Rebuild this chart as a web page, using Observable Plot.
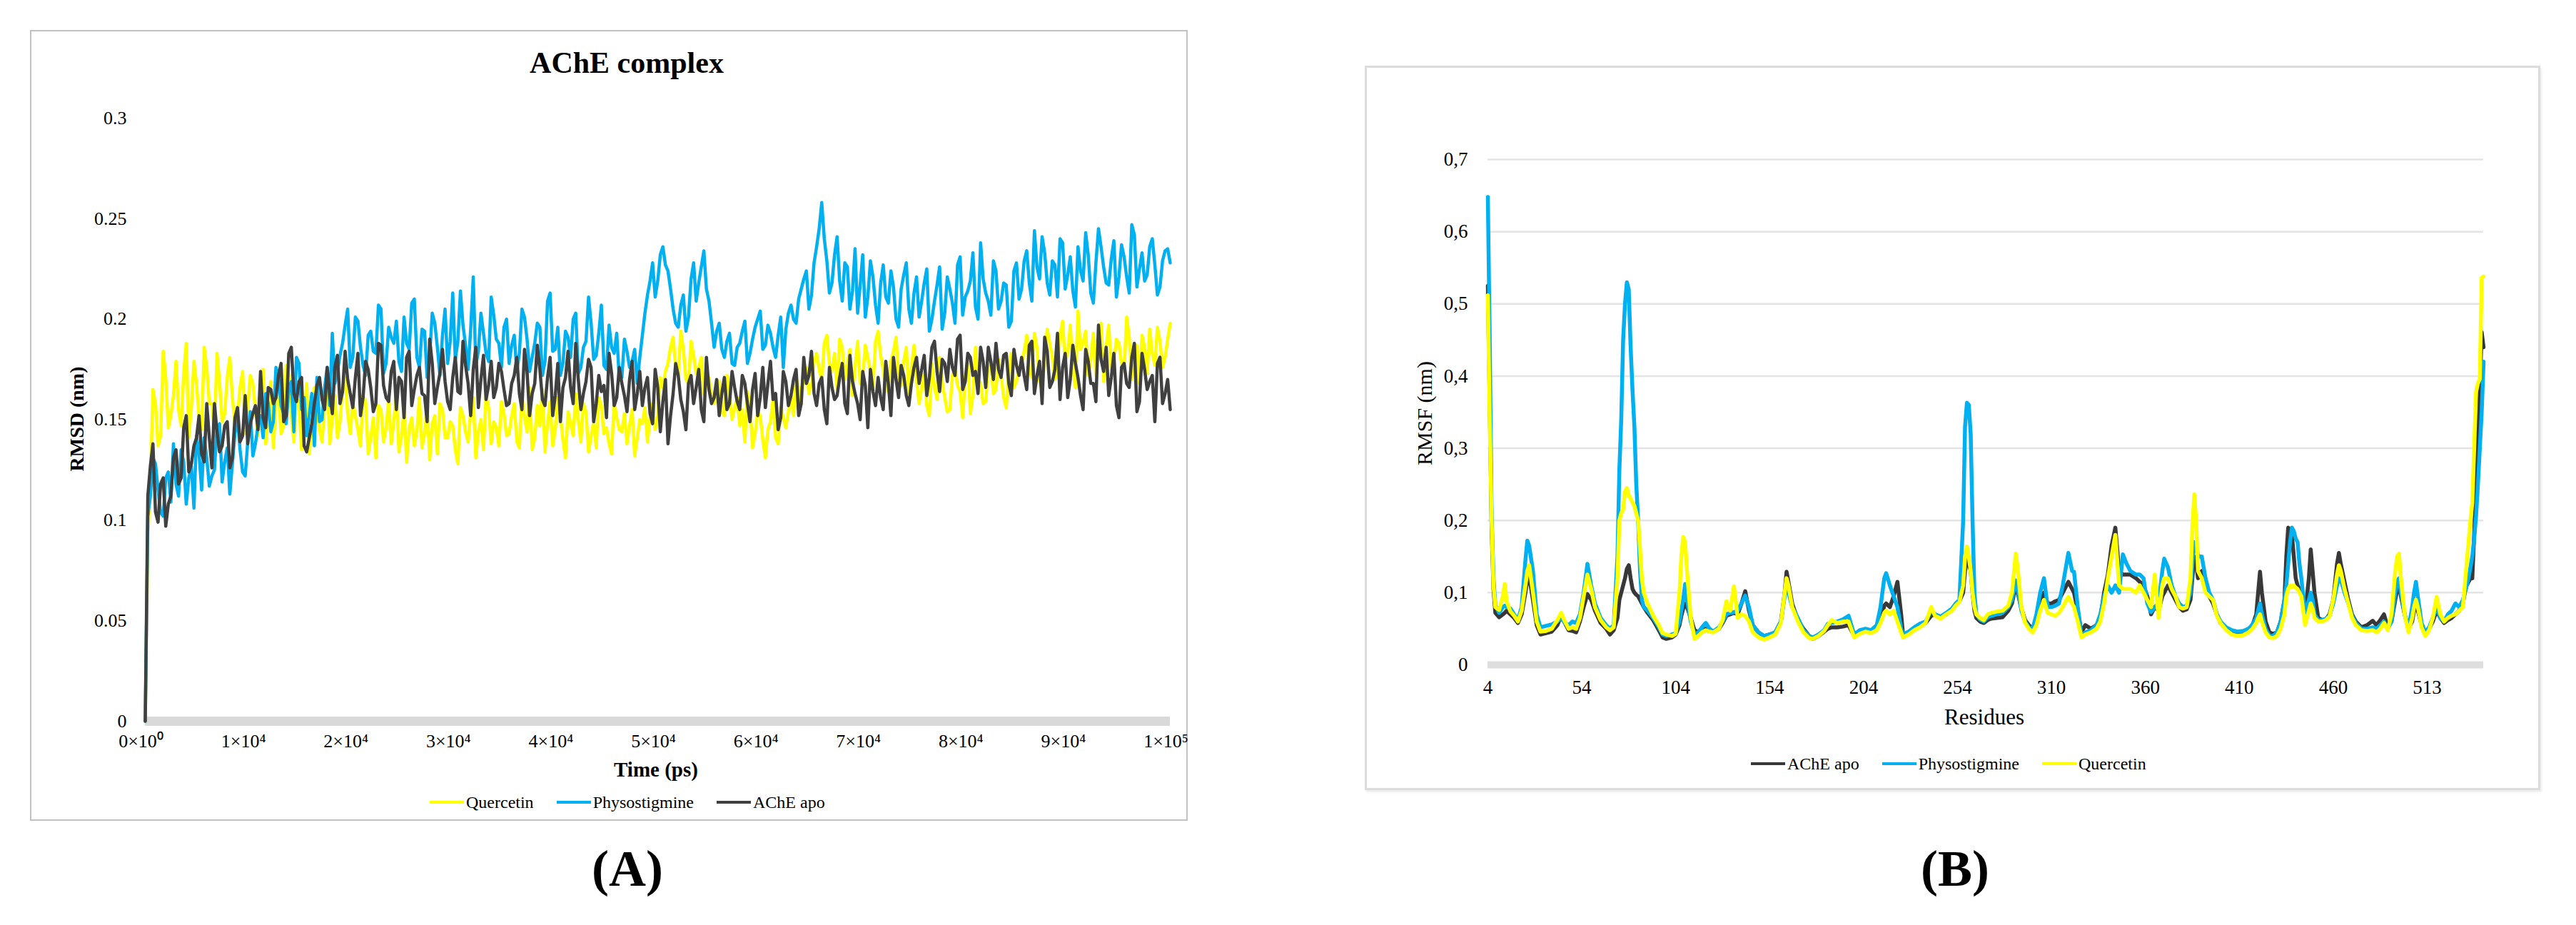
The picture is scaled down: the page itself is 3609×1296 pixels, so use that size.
<!DOCTYPE html>
<html><head><meta charset="utf-8">
<script src="https://cdn.jsdelivr.net/npm/d3@7"></script>
<script src="https://cdn.jsdelivr.net/npm/@observablehq/plot@0.6"></script>
<style>
html,body{margin:0;padding:0;background:#fff;}
body{width:3609px;height:1296px;position:relative;overflow:hidden;font-family:"Liberation Serif","Times New Roman",serif;color:#000;}
.frame{position:absolute;box-sizing:border-box;}
.lbl{position:absolute;white-space:nowrap;line-height:1;transform:translate(-50%,-50%);}
.leg{position:absolute;display:flex;align-items:center;font-size:24px;line-height:1;white-space:nowrap;transform:translateY(-50%);}
.leg .sw{display:inline-block;width:48px;height:4px;margin-right:3px;}
.leg .it{display:flex;align-items:center;margin-right:32px;}
.plot{position:absolute;}
</style>
</head><body>
<div class="frame" style="left:42px;top:42px;width:1622px;height:1108px;border:2px solid #c2c2c2;"></div>
<div class="frame" style="left:1912px;top:92px;width:1647px;height:1015px;border:3px solid #dcdcdc;box-shadow:2px 3px 3px #ececec;"></div>
<script>
// ---------- Panel A: RMSD ----------
const rmsdSeries = ["Quercetin", "Physostigmine", "AChE apo"];
// samples read every 250 ps: "even" values at 0,500,1000,... and "mid" values at 250,750,...
const rmsdStepPs = 250;
const rmsdXTicks = [0, 10000, 20000, 30000, 40000, 50000, 60000, 70000, 80000, 90000, 100000];
const rmsdXTickLabels = ["0×10⁰", "1×10⁴", "2×10⁴", "3×10⁴", "4×10⁴", "5×10⁴", "6×10⁴", "7×10⁴", "8×10⁴", "9×10⁴", "1×10⁵"];
const rmsdYTicks = [0, 0.05, 0.1, 0.15, 0.2, 0.25, 0.3];
const rmsdYTickLabels = ["0", "0.05", "0.1", "0.15", "0.2", "0.25", "0.3"];

const rmsdQuercetin = [0,0.118,0.158,0.142,0.171,0.152,0.179,0.147,0.188,0.156,0.168,0.145,0.176,0.158,0.183,0.149,0.171,0.161,0.152,0.174,0.156,
0.168,0.142,0.175,0.151,0.136,0.163,0.147,0.172,0.139,0.158,0.151,0.133,0.166,0.145,0.157,0.138,0.162,0.149,0.171,0.143,
0.152,0.137,0.159,0.141,0.131,0.155,0.146,0.138,0.163,0.142,0.129,0.151,0.144,0.136,0.158,0.148,0.133,0.155,0.141,0.147,0.128,0.152,0.139,0.161,0.144,0.135,0.156,0.149,0.137,0.153,
0.143,0.158,0.136,0.151,0.166,0.141,0.147,0.134,0.159,0.145,0.152,0.131,0.148,0.163,0.139,0.154,0.142,0.136,0.157,0.146,0.133,0.151,0.144,0.138,0.155,0.141,
0.148,0.139,0.158,0.152,0.166,
0.178,0.191,0.172,0.185,0.168,0.182,0.176,0.163,0.171,
0.158,0.169,0.152,0.164,0.156,
0.147,0.139,0.158,0.143,0.152,0.131,0.149,0.141,0.156,0.146,
0.162,0.171,0.158,0.176,0.168,
0.183,0.169,0.192,0.174,0.165,0.186,0.178,0.162,0.189,0.171,0.181,0.166,0.194,0.175,0.168,0.184,0.172,0.179,0.163,0.187,
0.158,0.173,0.152,0.166,0.181,0.161,0.155,0.176,0.164,0.171,0.153,0.186,0.168,0.159,0.177,0.165,0.172,0.156,0.183,0.169,
0.178,0.192,0.171,0.186,0.165,0.195,0.181,0.174,0.199,0.183,0.176,0.204,0.188,0.172,0.193,0.185,0.169,0.197,0.179,0.188,0.174,0.191,0.183,0.168,0.186,0.195,0.177,0.189,0.181,0.198];
const rmsdQuercetinMid = [0.092,
0.165,0.137,0.184,0.146,0.162,0.155,0.173,0.141,0.179,0.151,0.186,0.158,0.144,0.169,0.153,0.181,0.148,0.166,0.143,0.172,
0.155,0.164,0.138,0.169,0.158,0.143,0.177,0.152,0.161,0.135,0.168,0.147,0.156,0.139,0.172,0.15,0.141,0.165,0.153,0.159,
0.145,0.162,0.133,0.151,0.157,0.139,0.16,0.149,0.134,0.155,0.146,0.137,0.161,0.143,0.13,0.152,0.158,0.141,0.149,0.135,0.156,0.144,0.154,0.131,0.15,0.162,0.138,0.146,0.159,0.142,
0.152,0.139,0.162,0.144,0.135,0.157,0.165,0.148,0.137,0.161,0.14,0.154,0.142,0.15,0.158,0.134,0.149,0.161,0.143,0.138,0.159,0.145,0.153,0.147,0.132,0.15,
0.156,0.151,0.145,0.171,0.174,
0.186,0.176,0.194,0.17,0.189,0.173,0.181,0.168,0.162,
0.165,0.154,0.172,0.15,0.161,
0.155,0.164,0.136,0.154,0.14,0.145,0.16,0.138,0.151,0.154,
0.152,0.166,0.175,0.163,0.179,
0.175,0.188,0.178,0.183,0.19,0.17,0.185,0.176,0.168,0.187,0.174,0.189,0.182,0.164,0.179,0.191,0.167,0.186,0.176,0.17,
0.166,0.157,0.178,0.16,0.169,0.154,0.172,0.167,0.151,0.179,0.162,0.17,0.158,0.175,0.163,0.18,0.161,0.174,0.166,0.176,
0.184,0.175,0.193,0.169,0.182,0.188,0.17,0.192,0.179,0.197,0.166,0.185,0.194,0.18,0.172,0.198,0.186,0.175,0.19,0.178,0.201,0.17,0.187,0.192,0.173,0.183,0.196,0.176,0.19];

const rmsdPhysostigmine = [0,
0.112,0.128,0.104,0.121,0.109,
0.118,0.135,0.108,0.127,0.142,0.115,0.131,0.122,0.146,0.119,0.136,0.128,0.151,0.124,0.139,0.132,0.147,
0.141,0.158,0.149,0.172,0.153,0.165,0.144,0.178,0.161,0.152,0.137,0.149,0.166,0.157,
0.168,0.182,0.197,0.176,0.201,0.186,0.172,0.194,0.183,0.205,0.178,0.191,0.199,0.174,0.188,0.208,0.181,0.195,0.171,0.203,0.186,0.192,0.178,0.213,0.189,0.197,0.175,0.221,0.184,0.193,0.179,0.202,0.188,0.196,
0.178,0.192,0.183,0.201,0.174,0.188,0.196,0.179,0.213,0.185,0.172,0.194,0.181,0.203,0.176,0.189,0.198,0.182,0.207,0.175,0.186,0.193,0.171,0.184,0.179,0.168,
0.192,0.212,0.228,0.219,0.236,
0.224,0.205,0.196,0.212,0.201,0.228,0.218,0.234,0.209,
0.186,0.198,0.181,0.193,0.177,
0.188,0.199,0.183,0.196,0.204,0.187,0.193,0.181,0.201,0.195,
0.207,0.198,0.215,0.224,0.212,
0.236,0.258,0.229,0.218,0.241,0.209,0.226,0.214,0.203,0.232,0.211,0.221,0.198,0.227,0.208,0.216,0.196,0.222,0.205,0.213,
0.201,0.218,0.194,0.209,0.226,0.203,0.215,0.198,0.231,0.211,0.219,0.206,0.238,0.213,0.202,0.224,0.209,0.217,0.199,0.228,
0.215,0.234,0.209,0.226,0.241,0.218,0.229,0.211,0.238,0.222,0.214,0.236,0.219,0.232,0.208,0.245,0.226,0.217,0.239,0.221,0.231,0.213,0.242,0.225,0.219,0.236,0.227,0.216,0.234,0.228];
const rmsdPhysostigmineMid = [0.102,
0.131,0.115,0.102,0.124,0.138,0.112,0.129,0.121,0.106,0.133,0.141,0.117,0.125,0.148,0.129,0.113,0.143,0.135,0.122,0.154,
0.138,0.152,0.163,0.144,0.176,0.157,0.148,0.169,0.181,0.155,0.142,0.163,0.171,0.15,0.176,0.193,0.174,0.188,0.205,0.181,
0.199,0.177,0.192,0.184,0.207,0.173,0.196,0.188,0.179,0.201,0.185,0.21,0.176,0.194,0.182,0.198,0.172,0.205,0.189,0.18,0.214,0.187,0.195,0.177,0.203,0.183,0.211,0.19,0.176,0.2,
0.187,0.174,0.205,0.19,0.181,0.198,0.172,0.209,0.184,0.196,0.178,0.191,0.2,0.173,0.186,0.211,0.18,0.193,0.177,0.197,0.183,0.17,0.19,0.176,0.185,0.181,
0.203,0.219,0.211,0.232,0.227,
0.215,0.198,0.207,0.194,0.22,0.209,0.226,0.215,0.198,
0.194,0.185,0.189,0.178,0.186,
0.194,0.178,0.19,0.2,0.185,0.197,0.186,0.192,0.176,0.203,
0.2,0.21,0.22,0.205,0.228,
0.245,0.24,0.213,0.232,0.219,0.228,0.205,0.235,0.217,0.201,0.229,0.207,0.218,0.211,0.224,0.2,0.215,0.228,0.198,0.221,
0.209,0.225,0.2,0.217,0.195,0.221,0.208,0.227,0.202,0.214,0.233,0.2,0.22,0.209,0.229,0.205,0.218,0.196,0.224,0.21,
0.229,0.218,0.244,0.22,0.233,0.212,0.227,0.24,0.215,0.231,0.206,0.224,0.243,0.213,0.228,0.236,0.218,0.23,0.211,0.237,0.221,0.247,0.216,0.233,0.222,0.24,0.212,0.229,0.235];

const rmsdApo = [0,
0.127,0.104,0.118,0.097,0.112,
0.135,0.121,0.152,0.128,0.141,0.133,0.158,0.126,0.144,0.137,0.149,0.131,0.156,0.142,0.138,0.153,0.145,
0.151,0.166,0.158,0.172,0.149,0.183,0.163,0.169,0.137,0.141,0.158,0.171,0.155,0.163,
0.176,0.158,0.184,0.163,0.171,0.152,0.179,0.166,0.158,0.187,0.161,0.174,0.155,0.169,0.181,0.157,0.172,0.163,0.149,0.178,0.166,0.185,0.159,0.171,0.164,0.189,0.168,0.175,0.156,0.182,0.167,0.161,0.178,0.165,
0.158,0.172,0.163,0.185,0.152,0.168,0.175,0.157,0.181,0.162,0.149,0.171,0.166,0.188,0.155,0.169,0.176,0.158,0.164,0.151,0.173,0.161,0.168,0.154,0.179,0.163,
0.157,0.171,0.148,0.166,0.159,
0.138,0.163,0.172,0.154,0.168,0.158,0.175,0.149,0.165,
0.161,0.152,0.171,0.158,0.166,
0.155,0.168,0.149,0.173,0.161,0.156,0.179,0.163,0.151,0.169,
0.162,0.175,0.158,0.168,0.184,
0.157,0.171,0.148,0.166,0.162,0.178,0.153,0.169,0.158,0.174,0.146,0.164,0.171,0.155,0.168,0.181,0.161,0.172,0.157,0.176,
0.168,0.182,0.171,0.189,0.164,0.178,0.185,0.172,0.192,0.169,0.181,0.174,0.186,0.166,0.179,0.188,0.171,0.183,0.162,0.177,
0.181,0.165,0.189,0.172,0.158,0.184,0.169,0.193,0.176,0.161,0.187,0.171,0.155,0.179,0.168,0.197,0.174,0.162,0.183,0.151,0.178,0.166,0.188,0.159,0.175,0.169,0.149,0.181,0.163,0.155];
const rmsdApoMid = [0.112,
0.138,0.099,0.121,0.108,0.131,0.118,0.146,0.124,0.137,0.152,0.129,0.141,0.158,0.134,0.147,0.126,0.151,0.139,0.162,0.148,
0.157,0.174,0.146,0.165,0.161,0.178,0.152,0.186,0.159,0.171,0.134,0.148,0.167,0.16,0.176,0.153,0.182,0.164,0.17,0.156,
0.183,0.161,0.175,0.154,0.188,0.167,0.159,0.179,0.171,0.151,0.184,0.165,0.176,0.162,0.19,0.158,0.173,0.169,0.155,0.181,0.163,0.177,0.152,0.186,0.17,0.16,0.179,0.166,0.174,0.157,
0.168,0.181,0.155,0.174,0.163,0.187,0.16,0.171,0.152,0.178,0.166,0.184,0.158,0.17,0.163,0.18,0.149,0.172,0.167,0.183,0.157,0.176,0.162,0.17,0.155,0.174,
0.166,0.153,0.175,0.144,0.17,
0.152,0.178,0.16,0.145,0.172,0.166,0.155,0.181,0.158,
0.17,0.163,0.155,0.174,0.159,
0.172,0.158,0.165,0.152,0.176,0.168,0.16,0.145,0.174,0.157,
0.17,0.152,0.181,0.172,0.163,
0.168,0.155,0.176,0.16,0.171,0.158,0.182,0.163,0.15,0.167,0.175,0.157,0.161,0.179,0.152,0.17,0.177,0.162,0.168,0.181,
0.175,0.162,0.186,0.174,0.18,0.169,0.176,0.19,0.165,0.183,0.172,0.163,0.179,0.186,0.17,0.175,0.182,0.168,0.185,0.172,
0.172,0.187,0.163,0.179,0.191,0.166,0.175,0.16,0.183,0.17,0.178,0.162,0.185,0.168,0.159,0.18,0.186,0.171,0.157,0.176,0.168,0.181,0.154,0.183,0.165,0.172,0.178,0.158,0.17];

// ---------- Panel B: RMSF ----------
const rmsfSeries = ["AChE apo", "Physostigmine", "Quercetin"];
const rmsfXTicks = [0, 50, 100, 150, 200, 250, 300, 350, 400, 450, 500];
const rmsfXTickLabels = ["4", "54", "104", "154", "204", "254", "310", "360", "410", "460", "513"];
const rmsfYTicks = [0, 0.1, 0.2, 0.3, 0.4, 0.5, 0.6, 0.7];
const rmsfYTickLabels = ["0", "0,1", "0,2", "0,3", "0,4", "0,5", "0,6", "0,7"];

const rmsfIndex = [0,1,2,3,4,6,8,9,10,12,
14,16,18,20,21,22,24,26,28,31,
34,37,39,41,43,45,47,49,51,53,
55,57,60,63,65,67,69,70,71,72,
73,74,75,76,77,78,79,80,81,82,
83,85,88,91,93,95,98,100,102,103,
104,105,106,108,110,112,114,116,118,120,
123,125,127,129,131,133,135,137,139,141,
144,147,150,153,156,158,159,160,162,165,
168,171,173,176,179,181,183,186,189,192,
195,198,201,204,207,209,211,212,214,216,
218,220,221,224,227,230,233,236,238,241,
244,247,249,251,253,254,255,256,257,258,
259,260,262,264,266,268,271,274,277,279,
281,282,284,286,288,290,292,294,296,298,
300,302,304,306,308,309,311,312,314,316,
318,321,324,326,328,330,332,334,336,338,
340,342,345,347,349,351,353,355,357,359,
360,362,364,366,368,370,372,374,375,376,
377,378,380,382,384,386,388,390,393,396,
399,402,405,407,409,410,411,412,414,416,
418,420,422,424,425,426,427,428,429,430,
431,432,433,435,437,438,439,440,442,444,
446,448,450,452,453,454,456,458,460,462,
465,468,471,473,475,477,479,481,483,484,
485,486,488,490,492,493,494,495,497,499,
501,503,505,507,509,511,513,515,517,519,
520,521,522,523,524,525,526,527,528,529,
530];

const rmsfApo = [.525,.36,.19,.105,.072,.066,.07,.072,.075,.07,
.065,.058,.07,.1,.118,.123,.09,.055,.042,.044,
.046,.055,.068,.058,.048,.047,.045,.06,.08,.098,
.09,.075,.058,.05,.042,.048,.065,.09,.1,.11,
.12,.133,.138,.12,.105,.1,.097,.095,.09,.085,
.08,.072,.062,.048,.038,.036,.038,.042,.055,.068,
.078,.085,.08,.065,.048,.045,.05,.05,.048,.046,
.05,.058,.068,.07,.072,.07,.085,.102,.075,.055,
.045,.04,.042,.045,.06,.1,.129,.115,.085,.062,
.05,.04,.036,.04,.046,.05,.052,.052,.053,.055,
.04,.045,.048,.045,.05,.06,.082,.085,.08,.095,
.115,.07,.042,.045,.05,.055,.058,.068,.07,.066,
.07,.077,.083,.088,.1,.13,.145,.14,.13,.1,
.075,.065,.06,.058,.062,.064,.065,.066,.075,.085,
.11,.1,.078,.062,.055,.05,.06,.085,.1,.085,
.085,.088,.09,.1,.11,.115,.105,.1,.075,.045,
.055,.05,.055,.065,.1,.125,.165,.19,.13,.125,
.125,.125,.12,.115,.11,.095,.07,.08,.075,.095,
.1,.11,.1,.09,.08,.075,.077,.09,.12,.15,
.14,.12,.13,.11,.095,.085,.07,.058,.05,.046,
.045,.046,.05,.055,.07,.1,.129,.1,.06,.045,
.043,.045,.06,.09,.15,.19,.188,.18,.15,.12,
.11,.105,.1,.07,.12,.16,.13,.1,.065,.062,
.063,.07,.09,.14,.155,.14,.115,.09,.07,.06,
.052,.055,.061,.055,.062,.07,.052,.06,.09,.105,
.11,.095,.07,.05,.06,.075,.085,.075,.055,.043,
.05,.06,.075,.065,.058,.062,.065,.07,.075,.085,
.1,.11,.115,.12,.12,.18,.25,.32,.38,.461,
.44];

const rmsfPhysostigmine = [.648,.45,.21,.12,.082,.072,.08,.082,.08,.078,
.07,.062,.08,.145,.172,.165,.13,.07,.052,.054,
.056,.06,.065,.058,.055,.06,.058,.07,.1,.14,
.11,.085,.065,.055,.05,.055,.15,.27,.34,.45,
.5,.53,.52,.44,.38,.33,.25,.2,.13,.09,
.08,.075,.065,.052,.042,.04,.042,.044,.06,.075,
.09,.112,.09,.06,.042,.045,.052,.058,.05,.046,
.052,.06,.07,.072,.073,.075,.085,.096,.08,.055,
.045,.04,.042,.045,.06,.095,.115,.1,.08,.065,
.048,.04,.038,.042,.048,.057,.058,.06,.063,.068,
.042,.048,.05,.048,.055,.08,.12,.127,.11,.095,
.08,.05,.042,.046,.052,.057,.06,.075,.07,.067,
.072,.078,.085,.09,.2,.33,.363,.36,.32,.2,
.1,.07,.063,.06,.066,.068,.07,.072,.08,.09,
.117,.105,.075,.06,.052,.05,.07,.1,.12,.08,
.08,.082,.085,.11,.14,.155,.13,.129,.08,.04,
.045,.048,.055,.07,.095,.11,.1,.11,.1,.153,
.14,.13,.125,.125,.12,.085,.073,.08,.085,.13,
.147,.135,.11,.095,.085,.08,.082,.1,.14,.17,
.165,.15,.15,.12,.1,.09,.07,.06,.052,.048,
.046,.047,.05,.056,.065,.075,.085,.07,.05,.04,
.04,.045,.06,.09,.11,.14,.17,.19,.185,.175,
.17,.14,.12,.07,.09,.1,.09,.07,.062,.062,
.064,.068,.085,.11,.12,.118,.1,.085,.068,.058,
.05,.05,.052,.05,.055,.06,.05,.06,.1,.115,
.12,.1,.07,.05,.08,.1,.115,.095,.058,.045,
.052,.065,.08,.065,.06,.07,.075,.085,.08,.09,
.1,.11,.12,.135,.15,.175,.206,.25,.3,.35,
.42];

const rmsfQuercetin = [.512,.34,.2,.11,.08,.076,.095,.112,.088,.074,
.068,.06,.075,.11,.13,.138,.1,.06,.046,.047,
.05,.062,.072,.06,.05,.052,.05,.065,.095,.125,
.105,.08,.062,.052,.048,.052,.12,.2,.21,.215,
.24,.245,.235,.23,.225,.22,.21,.2,.16,.12,
.1,.085,.068,.055,.044,.042,.04,.043,.1,.15,
.177,.17,.13,.065,.036,.04,.045,.048,.046,.045,
.05,.062,.088,.075,.109,.065,.07,.068,.06,.045,
.038,.035,.038,.042,.058,.1,.12,.11,.08,.06,
.045,.037,.036,.04,.047,.055,.062,.058,.06,.06,
.038,.043,.046,.044,.048,.058,.072,.075,.07,.075,
.06,.045,.038,.042,.048,.052,.058,.08,.068,.064,
.07,.075,.082,.087,.11,.15,.164,.15,.13,.1,
.08,.07,.065,.062,.07,.072,.074,.075,.082,.1,
.154,.135,.08,.058,.05,.045,.055,.075,.09,.072,
.07,.068,.072,.08,.09,.094,.085,.08,.06,.038,
.042,.045,.05,.06,.085,.12,.15,.18,.11,.105,
.105,.105,.1,.11,.1,.09,.08,.125,.065,.11,
.12,.12,.105,.095,.08,.078,.08,.12,.19,.236,
.2,.13,.12,.1,.095,.09,.068,.058,.048,.042,
.04,.041,.045,.05,.058,.065,.07,.06,.045,.038,
.037,.04,.05,.07,.095,.105,.11,.108,.11,.107,
.105,.1,.095,.055,.075,.085,.078,.065,.06,.06,
.062,.067,.09,.125,.138,.13,.105,.085,.065,.055,
.048,.047,.048,.045,.05,.058,.048,.07,.13,.15,
.154,.12,.07,.045,.065,.08,.09,.08,.052,.04,
.048,.065,.094,.07,.06,.065,.068,.07,.075,.08,
.11,.14,.17,.2,.224,.3,.378,.39,.396,.536,
.538];

const colYellow = "#FFFF00", colBlue = "#00B0F0", colDark = "#404040";

function addText(txt, x, y, size, opts = {}) {
  const d = document.createElement("div");
  d.className = "lbl";
  d.textContent = txt;
  d.style.left = x + "px";
  d.style.top = y + "px";
  d.style.fontSize = size + "px";
  if (opts.bold) d.style.fontWeight = "bold";
  if (opts.rotate) d.style.transform = "translate(-50%,-50%) rotate(-90deg)";
  document.body.appendChild(d);
}
function addLegend(items, left, y) {
  const L = document.createElement("div");
  L.className = "leg";
  L.style.left = left + "px";
  L.style.top = y + "px";
  for (const [name, color] of items) {
    const it = document.createElement("span");
    it.className = "it";
    const sw = document.createElement("span");
    sw.className = "sw";
    sw.style.background = color;
    const t = document.createElement("span");
    t.textContent = name;
    it.appendChild(sw); it.appendChild(t);
    L.appendChild(it);
  }
  document.body.appendChild(L);
}

// Panel A: interleave the 500-ps samples with the 250-ps mid samples
const interleave = (main, mid) => {
  const out = [];
  main.forEach((v, i) => { out.push(v); if (i < mid.length) out.push(mid[i]); });
  return out;
};
const toRows = (arr) => arr.map((v, i) => ({t: i * rmsdStepPs, v}));
const qRows = toRows(interleave(rmsdQuercetin, rmsdQuercetinMid));
const pRows = toRows(interleave(rmsdPhysostigmine, rmsdPhysostigmineMid));
const aRows = toRows(interleave(rmsdApo, rmsdApoMid));

const lineOpts = {x: "t", y: "v", strokeWidth: 4.5, strokeLinejoin: "round"};
const plotA = Plot.plot({
  width: 1621, height: 1040,
  marginLeft: 160, marginRight: 25, marginTop: 122, marginBottom: 73,
  style: {fontFamily: '"Liberation Serif","Times New Roman",serif', fontSize: "26px", color: "#000", background: "transparent", overflow: "visible"},
  x: {domain: [0, 100000]},
  y: {domain: [0, 0.3]},
  marks: [
    Plot.ruleY([0], {stroke: "#d9d9d9", strokeWidth: 13}),
    Plot.line(qRows, {...lineOpts, stroke: colYellow}),
    Plot.line(pRows, {...lineOpts, stroke: colBlue}),
    Plot.line(aRows, {...lineOpts, stroke: colDark}),
    Plot.axisX({ticks: rmsdXTicks, tickSize: 0, tickPadding: 18, dx: -6, label: null,
      tickFormat: d => rmsdXTickLabels[rmsdXTicks.indexOf(d)]}),
    Plot.axisY({ticks: rmsdYTicks, tickSize: 0, tickPadding: 26, label: null,
      tickFormat: d => rmsdYTickLabels[Math.round(d / 0.05)]})
  ]
});
plotA.classList.add("plot");
plotA.style.left = "43px"; plotA.style.top = "43px";
document.body.appendChild(plotA);

addText("AChE complex", 878, 88, 42, {bold: true});
addText("RMSD (nm)", 108, 587, 28, {bold: true, rotate: true});
addText("Time (ps)", 919, 1078, 29, {bold: true});
addLegend([[rmsdSeries[0], colYellow], [rmsdSeries[1], colBlue], [rmsdSeries[2], colDark]], 602, 1124);
addText("(A)", 879, 1217, 72, {bold: true});

// Panel B
const mk = (arr) => rmsfIndex.map((idx, i) => ({idx, v: arr[i]}));
const bApo = mk(rmsfApo), bPhy = mk(rmsfPhysostigmine), bQue = mk(rmsfQuercetin);

const plotB = Plot.plot({
  width: 1645, height: 1000,
  marginLeft: 171, marginRight: 79, marginTop: 130, marginBottom: 162,
  style: {fontFamily: '"Liberation Serif","Times New Roman",serif', fontSize: "27px", color: "#000", background: "transparent", overflow: "visible"},
  x: {domain: [0, 530]},
  y: {domain: [0, 0.7]},
  marks: [
    Plot.ruleY(rmsfYTicks.filter(d => d > 0), {stroke: "#e4e4e4", strokeWidth: 2.5}),
    Plot.ruleY([0], {stroke: "#dedede", strokeWidth: 10}),
    Plot.line(bApo, {x: "idx", y: "v", stroke: "#383838", strokeWidth: 5.5}),
    Plot.line(bPhy, {x: "idx", y: "v", stroke: colBlue, strokeWidth: 5.5}),
    Plot.line(bQue, {x: "idx", y: "v", stroke: colYellow, strokeWidth: 5.5}),
    Plot.axisX({ticks: rmsfXTicks, tickSize: 0, tickPadding: 21, label: null,
      tickFormat: d => rmsfXTickLabels[rmsfXTicks.indexOf(d)]}),
    Plot.axisY({ticks: rmsfYTicks, tickSize: 0, tickPadding: 28, label: null,
      tickFormat: d => rmsfYTickLabels[Math.round(d * 10)]})
  ]
});
plotB.classList.add("plot");
plotB.style.left = "1913px"; plotB.style.top = "93px";
document.body.appendChild(plotB);

addText("RMSF (nm)", 1996, 579, 30, {rotate: true});
addText("Residues", 2780, 1004, 31);
addLegend([[rmsfSeries[0], "#383838"], [rmsfSeries[1], colBlue], [rmsfSeries[2], colYellow]], 2453, 1070);
addText("(B)", 2739, 1217, 72, {bold: true});
</script>
</body></html>
